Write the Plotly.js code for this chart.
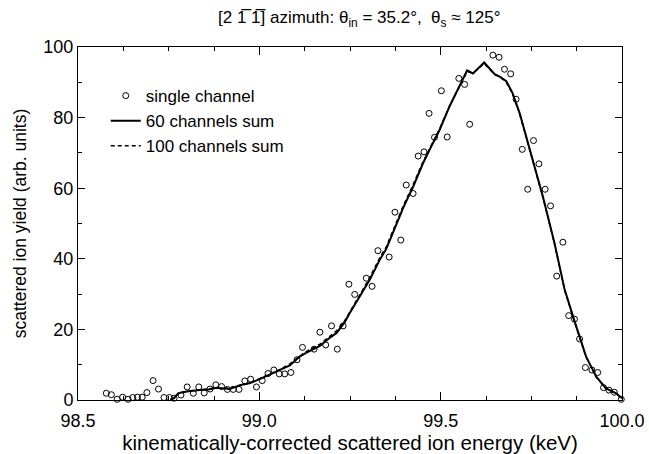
<!DOCTYPE html>
<html>
<head>
<meta charset="utf-8">
<script src="https://cdn.plot.ly/plotly-3.0.1.min.js"></script>
<style>html,body{margin:0;padding:0;background:#fff;}#chart{width:649px;height:454px;}</style>
</head>
<body>
<div id="chart"></div>
<script>
// single channel data (energy in keV, yield in arb. units)
var singleX = [98.578,98.592,98.608,98.623,98.638,98.651,98.664,98.677,98.690,98.707,98.722,98.737,98.752,98.765,98.784,98.801,98.818,98.833,98.848,98.864,98.880,98.896,98.912,98.928,98.944,98.960,98.976,98.992,99.008,99.024,99.040,99.055,99.070,99.087,99.104,99.119,99.151,99.167,99.183,99.199,99.215,99.231,99.247,99.263,99.295,99.311,99.327,99.358,99.374,99.390,99.405,99.424,99.438,99.454,99.468,99.483,99.502,99.518,99.550,99.566,99.580,99.644,99.661,99.676,99.693,99.708,99.725,99.740,99.756,99.771,99.788,99.803,99.820,99.837,99.853,99.869,99.883,99.899,99.917,99.933,99.949,99.964,99.979,99.998];
var singleY = [1.9,1.5,0.2,0.8,0.2,0.7,0.8,0.8,2.1,5.5,3.1,0.7,0.7,0.5,1.4,3.7,1.9,3.7,2.0,3.1,4.3,3.8,3.0,3.0,3.0,5.4,5.9,3.7,5.5,7.5,8.5,7.4,7.4,7.8,11.4,14.9,14.4,19.2,15.6,21.0,14.4,21.0,32.8,29.9,34.5,32.2,42.3,40.5,53.2,45.3,60.9,58.5,69.1,70.3,81.2,74.4,87.6,74.5,91.1,89.4,78.1,97.7,97.1,93.7,92.4,85.2,71.0,59.7,73.5,66.9,59.7,55.0,35.1,44.7,23.9,22.9,17.3,9.2,8.5,7.8,3.5,2.8,2.2,0.2];

// 60 channels sum
var sum60X = [98.755,98.765,98.776,98.800,98.836,98.860,98.882,98.919,98.946,98.975,99.001,99.030,99.056,99.084,99.110,99.130,99.167,99.190,99.213,99.235,99.249,99.277,99.304,99.332,99.350,99.364,99.396,99.424,99.451,99.470,99.497,99.525,99.552,99.573,99.589,99.620,99.649,99.665,99.681,99.698,99.718,99.736,99.759,99.782,99.814,99.842,99.874,99.901,99.929,99.956,99.984,100.0];
var sum60Y = [0,0.5,1.9,2.4,2.8,3.0,3.5,3.1,4.2,4.8,5.9,7.2,8.4,9.8,12.2,13.4,15.3,17.3,19.0,22.0,24.6,29.3,34.0,39.7,42.8,46.3,54.3,60.4,67.0,71.0,76.5,83.3,88.8,93.4,92.5,95.6,92.3,91.5,90.3,87.0,81.2,74.6,65.4,57.6,44.4,31.2,20.8,12.3,6.6,3.3,1.9,0.5];

// 100 channels sum
var sum100X = [98.755,98.768,98.780,98.800,98.836,98.860,98.882,98.919,98.946,98.975,99.001,99.030,99.056,99.084,99.110,99.130,99.167,99.190,99.213,99.235,99.249,99.277,99.304,99.332,99.350,99.364,99.396,99.424,99.451,99.470,99.497,99.525,99.552,99.573,99.589,99.620,99.649,99.665,99.681,99.698,99.718,99.736,99.759,99.782,99.814,99.842,99.874,99.901,99.929,99.956,99.984,100.0];
var sum100Y = [0,1.0,2.0,2.5,2.9,3.2,3.4,3.4,4.0,4.9,6.0,7.4,8.6,10.2,12.3,13.8,15.8,17.6,19.6,22.4,25.0,29.8,34.6,40.3,43.4,46.8,54.8,61.0,67.4,71.3,76.8,83.4,88.6,93.0,92.6,95.3,92.2,91.4,90.0,86.8,81.0,74.4,65.2,57.4,44.2,31.0,20.6,12.2,6.5,3.2,1.8,0.4];

var titleText = "[2 1\u0305 1\u0305] azimuth: \u03b8<sub>in</sub> = 35.2\u00b0,  \u03b8<sub>s</sub> \u2248 125\u00b0";
var xTitle = "kinematically-corrected scattered ion energy (keV)";
var yTitle = "scattered ion yield (arb. units)";
var xTickVals = [98.5, 99.0, 99.5, 100.0];
var xTickText = ["98.5", "99.0", "99.5", "100.0"];

var FONT = "Arial, 'Liberation Sans', sans-serif";

var traces = [
  {x: singleX, y: singleY, name: "single channel", type: "scatter", mode: "markers",
   cliponaxis: false,
   marker: {symbol: "circle-open", size: 6, color: "#000", line: {width: 1, color: "#000"}}},
  {x: sum60X, y: sum60Y, name: "60 channels sum", type: "scatter", mode: "lines",
   line: {color: "#000", width: 2}},
  {x: sum100X, y: sum100Y, name: "100 channels sum", type: "scatter", mode: "lines",
   line: {color: "#000", width: 1.5, dash: "4px,3px"}}
];

var layout = {
  width: 649, height: 454,
  margin: {l: 78, r: 27, t: 47, b: 54},
  paper_bgcolor: "#fff", plot_bgcolor: "#fff",
  font: {family: FONT, color: "#000", size: 18},
  showlegend: true,
  title: {text: titleText, font: {family: FONT, size: 17, color: "#000"},
          x: 0.517, xanchor: "center", y: 0.962, yanchor: "middle", xref: "paper"},
  legend: {x: 0.051, y: 0.912, xanchor: "left", yanchor: "top", bgcolor: "rgba(0,0,0,0)",
           font: {family: FONT, size: 17, color: "#000"}, tracegroupgap: 0, itemwidth: 30},
  xaxis: {
    range: [98.5, 100.0], tickmode: "array", tickvals: xTickVals, ticktext: xTickText,
    ticks: "inside", ticklen: 8, tickwidth: 1, tickcolor: "#000",
    minor: {dtick: 0.125, tick0: 98.5, ticks: "inside", ticklen: 4, tickwidth: 1, tickcolor: "#000", showgrid: false},
    showline: true, linecolor: "#000", linewidth: 1, mirror: "allticks",
    showgrid: false, zeroline: false, ticklabelstandoff: 4,
    tickfont: {family: FONT, size: 18, color: "#000"},
    title: {text: xTitle, font: {family: FONT, size: 20.5, color: "#000"}, standoff: 2}
  },
  yaxis: {
    range: [0, 100], dtick: 20, tick0: 0,
    ticks: "inside", ticklen: 7, tickwidth: 1, tickcolor: "#000",
    minor: {dtick: 10, ticks: "inside", ticklen: 4, tickwidth: 1, tickcolor: "#000", showgrid: false},
    showline: true, linecolor: "#000", linewidth: 1, mirror: "allticks",
    showgrid: false, zeroline: false,
    tickfont: {family: FONT, size: 18, color: "#000"},
    title: {text: yTitle, font: {family: FONT, size: 17.5, color: "#000"}, standoff: 12}
  }
};

Plotly.newPlot("chart", traces, layout, {displayModeBar: false, staticPlot: true});
</script>
</body>
</html>
